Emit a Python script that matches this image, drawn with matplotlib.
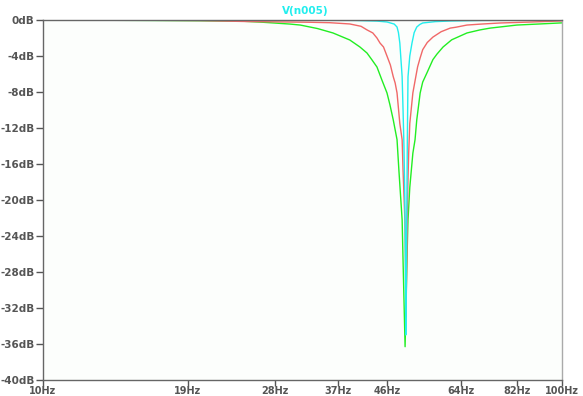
import matplotlib
matplotlib.use("Agg")
import matplotlib.pyplot as plt

# frequency (Hz) / magnitude (dB)
green_f = [10, 16, 20, 24.0, 26.5, 29.9, 31.3, 33.8, 36.2, 39.0, 40.8, 42.1, 43.0, 44.0,
           45.0, 46.0, 46.6, 47.3, 48.1, 48.5, 49.2, 49.4, 49.85, 50.3, 50.5, 50.9,
           51.6, 52.1, 52.5, 53.3, 53.9, 54.9, 56.4, 57.4, 59.0, 61.3, 65.6, 69.5,
           72.7, 81.9, 90.6, 99.1, 100]
green_db = [0.0, -0.05, -0.08, -0.12, -0.25, -0.45, -0.56, -0.95, -1.44, -2.22, -3.0,
            -3.67, -4.4, -5.22, -6.7, -8.1, -9.4, -11.1, -13.3, -16.7, -22.2, -26.7,
            -36.3, -25.9, -22.2, -18.6, -14.8, -13.3, -11.1, -8.1, -6.9, -5.9, -4.4,
            -3.8, -3.0, -2.2, -1.44, -1.1, -0.9, -0.56, -0.44, -0.33, -0.32]

red_f = [10, 16, 20, 24.7, 32.6, 35.7, 39.0, 41.0, 42.1, 43.2, 44.0, 44.6, 45.3, 46.0,
         46.7, 47.3, 47.7, 48.1, 48.7, 49.2, 49.4, 49.8, 49.95, 50.05, 50.25, 50.45,
         50.65, 50.9, 51.6, 52.2, 52.7, 53.3, 53.9, 55.0, 56.4, 58.5, 60.9, 62.5,
         65.6, 70.0, 76.1, 87.7, 99.1, 100]
red_db = [0.0, -0.03, -0.06, -0.17, -0.25, -0.3, -0.44, -0.7, -1.1, -1.44, -2.0, -2.56,
          -3.0, -4.0, -5.0, -6.3, -7.0, -8.1, -11.5, -13.3, -16.7, -22.2, -27.0, -33.0,
          -26.0, -18.6, -14.8, -11.5, -8.1, -6.5, -5.2, -4.2, -3.3, -2.5, -1.9, -1.3,
          -0.9, -0.8, -0.56, -0.45, -0.33, -0.22, -0.11, -0.1]

cyan_f = [10, 30, 40, 44.0, 46.0, 47.5, 48.1, 48.4, 48.7, 49.2, 49.4, 49.6, 49.8, 49.9,
          50.0, 50.1, 50.25, 50.35, 50.5, 50.9, 51.4, 51.9, 52.5, 53.2, 53.9, 57.0,
          60.9, 70, 100]
cyan_db = [0.0, -0.02, -0.05, -0.12, -0.22, -0.45, -0.78, -1.4, -2.56, -6.3, -10.0,
           -14.0, -20.0, -26.0, -35.0, -28.0, -20.0, -13.3, -6.3, -4.0, -2.56, -1.4,
           -0.78, -0.5, -0.33, -0.18, -0.11, -0.05, 0.0]

yticks = list(range(0, -41, -4))
ytick_labels = ["%ddB" % v for v in yticks]
xticks = [10, 19, 28, 37, 46, 64, 82, 100]
xtick_labels = ["%dHz" % v for v in xticks]

label_col = "#555555"

fig = plt.figure(figsize=(5.83, 3.96), dpi=100)
fig.patch.set_facecolor("white")
ax = fig.add_axes([43 / 583, 1 - 380 / 396, (562 - 43) / 583, 360 / 396])
ax.set_facecolor("#fcfefc")

ax.semilogx(green_f, green_db, color="#22ee22", lw=1.0)
ax.semilogx(red_f, red_db, color="#f06868", lw=1.0)
ax.semilogx(cyan_f, cyan_db, color="#22eeee", lw=1.0)

ax.set_xlim(10, 100)
ax.set_ylim(-40, 0)
ax.set_xticks(xticks)
ax.set_xticklabels(xtick_labels)
ax.minorticks_off()
ax.set_yticks(yticks)
ax.set_yticklabels(ytick_labels)
ax.tick_params(direction="out", length=5, width=1, colors=label_col, labelsize=7.5, pad=1)
ax.tick_params(axis="x", length=4, pad=0, labelsize=7)
for lbl in ax.get_xticklabels() + ax.get_yticklabels():
    lbl.set_fontweight("bold")

ax.spines["left"].set_color("#666666")
ax.spines["bottom"].set_color("#666666")
ax.spines["top"].set_color("#666666")
ax.spines["right"].set_color("#aaaaaa")
for s in ax.spines.values():
    s.set_linewidth(1.0)

fig.text(305 / 583, 1 - 11 / 396, "V(n005)", color="#22eeee", fontsize=7.5,
         fontweight="bold", ha="center", va="center")

fig.savefig("out.png", dpi=100)
